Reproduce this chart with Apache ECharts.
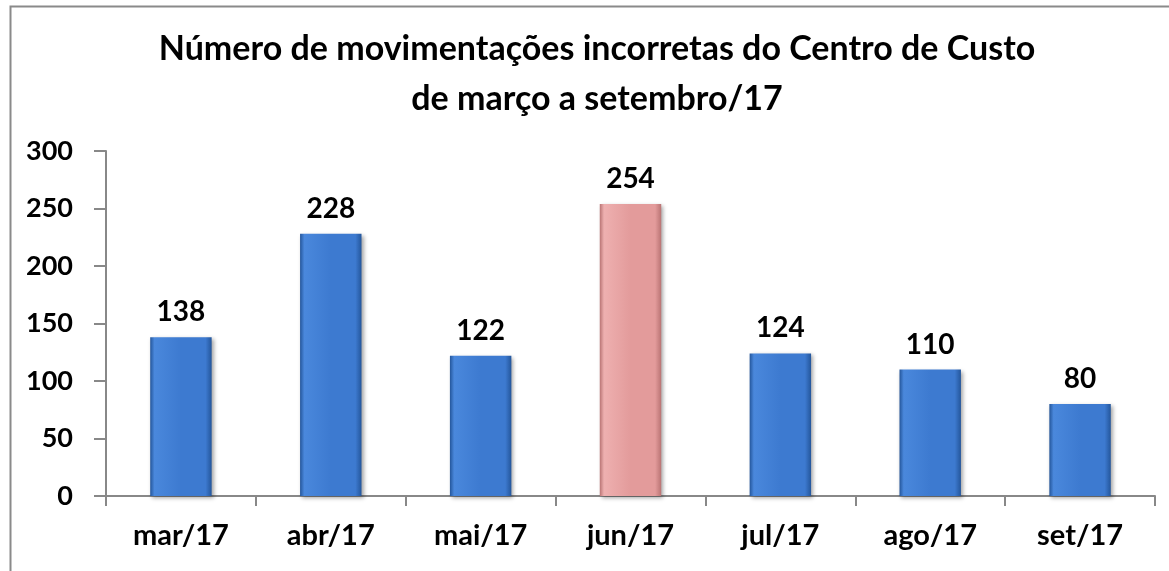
<!DOCTYPE html>
<html><head><meta charset="utf-8">
<script src="https://cdn.jsdelivr.net/npm/echarts@6/dist/echarts.min.js"></script>
<style>html,body{margin:0;padding:0;background:#fff}#c{width:1169px;height:571px}</style>
</head><body><div id="c"></div>
<script>
var categories = ['mar/17','abr/17','mai/17','jun/17','jul/17','ago/17','set/17'];
var values = [138, 228, 122, 254, 124, 110, 80];
var highlightIndex = 3;
var yTicks = [0, 50, 100, 150, 200, 250, 300];

var FONT = 'Lato';
function grad(edge, mid, light) {
  return new echarts.graphic.LinearGradient(0, 0, 1, 0, [
    {offset: 0, color: edge},
    {offset: 0.07, color: light},
    {offset: 0.5, color: mid},
    {offset: 0.9, color: mid},
    {offset: 1, color: edge}
  ]);
}
var blue = grad('#24569b', '#3d7ad0', '#4a88dc');
var pink = grad('#b97474', '#e39b9b', '#eeb0b0');

var chart = echarts.init(document.getElementById('c'), null, {renderer: 'canvas'});
chart.setOption({
  animation: false,
  backgroundColor: '#fff',
  graphic: [{
    type: 'rect', left: 8, top: 4, silent: true,
    shape: {x: 0, y: 0, width: 1200, height: 620},
    style: {fill: 'none', stroke: '#8a8a8a', lineWidth: 2}
  }],
  title: {
    text: 'Número de movimentações incorretas do Centro de Custo\nde março a setembro/17',
    left: 592, textAlign: 'center', top: 19,
    textStyle: {fontFamily: FONT, fontWeight: 'bold', fontSize: 34, lineHeight: 50, color: '#000'}
  },
  grid: {left: 106, right: 14, top: 151, bottom: 75, containLabel: false},
  xAxis: {
    type: 'category', data: categories,
    axisLine: {lineStyle: {color: '#888', width: 2}},
    axisTick: {show: true, length: 10, lineStyle: {color: '#888', width: 2}},
    axisLabel: {margin: 25, fontFamily: FONT, fontWeight: 'bold', fontSize: 29, color: '#000'}
  },
  yAxis: {
    type: 'value', min: yTicks[0], max: yTicks[yTicks.length - 1], interval: 50,
    splitLine: {show: false},
    axisLine: {show: true, lineStyle: {color: '#888', width: 2}},
    axisTick: {show: true, length: 12, lineStyle: {color: '#888', width: 2}},
    axisLabel: {margin: 33, fontFamily: FONT, fontWeight: 'bold', fontSize: 27, color: '#000'}
  },
  series: [{
    type: 'bar', barWidth: '41%',
    data: values.map(function (v, i) {
      return {value: v, itemStyle: {color: i === highlightIndex ? pink : blue}};
    }),
    itemStyle: {shadowColor: 'rgba(0,0,0,0.35)', shadowBlur: 4, shadowOffsetX: 2, shadowOffsetY: 2},
    label: {show: true, position: 'top', distance: 11, fontFamily: FONT, fontWeight: 'bold', fontSize: 28, color: '#000'}
  }]
});
</script></body></html>
